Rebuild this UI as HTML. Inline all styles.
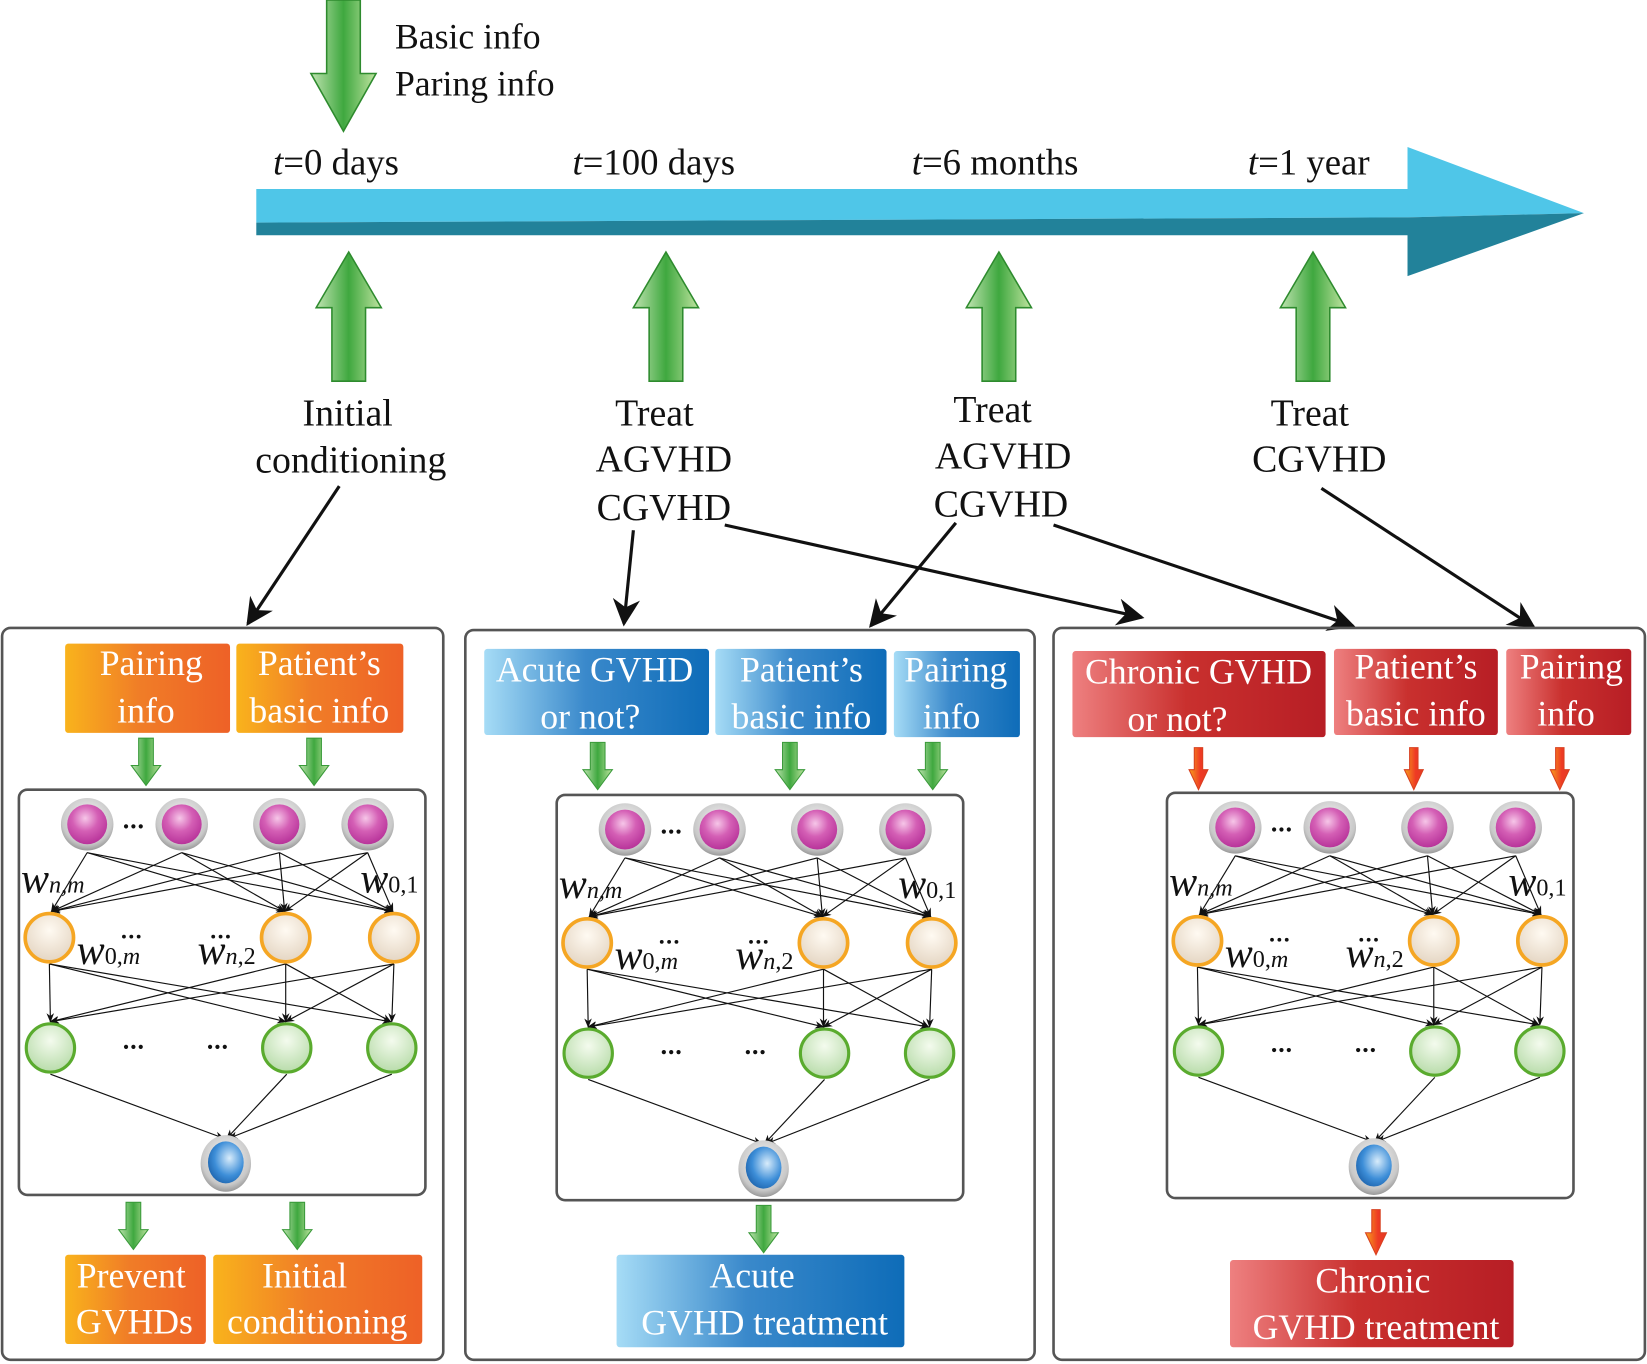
<!DOCTYPE html>
<html><head><meta charset="utf-8"><style>
html,body{margin:0;padding:0;background:#fff;}
svg{display:block;}
text{font-family:"Liberation Serif",serif;}
</style></head><body>
<svg width="1647" height="1364" viewBox="0 0 1568 1299" preserveAspectRatio="none" xmlns="http://www.w3.org/2000/svg">
<defs>
<linearGradient id="gA" x1="0" x2="1" y1="0" y2="0"><stop offset="0" stop-color="#bfe3b0"/><stop offset="0.5" stop-color="#3fa83f"/><stop offset="1" stop-color="#bfe3a0"/></linearGradient>
<linearGradient id="rA" x1="0" x2="1" y1="0" y2="0"><stop offset="0" stop-color="#f7a01c"/><stop offset="0.6" stop-color="#ee3a24"/><stop offset="1" stop-color="#e53a24"/></linearGradient>
<linearGradient id="org" x1="0" x2="1"><stop offset="0" stop-color="#f9b31c"/><stop offset="0.45" stop-color="#f07d27"/><stop offset="1" stop-color="#ee6127"/></linearGradient>
<linearGradient id="blu" x1="0" x2="1"><stop offset="0" stop-color="#a6dcf6"/><stop offset="0.45" stop-color="#3a89cb"/><stop offset="1" stop-color="#0e6cb8"/></linearGradient>
<linearGradient id="red" x1="0" x2="1"><stop offset="0" stop-color="#ee8080"/><stop offset="0.45" stop-color="#c9302e"/><stop offset="1" stop-color="#b71e25"/></linearGradient>
<radialGradient id="mag" cx="0.45" cy="0.35" r="0.65"><stop offset="0" stop-color="#f6c6e8"/><stop offset="0.5" stop-color="#d45fb5"/><stop offset="1" stop-color="#b8349a"/></radialGradient>
<radialGradient id="gry" cx="0.5" cy="0.4" r="0.6"><stop offset="0" stop-color="#fafafa"/><stop offset="0.8" stop-color="#c8c8c8"/><stop offset="1" stop-color="#999"/></radialGradient>
<radialGradient id="crm" cx="0.5" cy="0.35" r="0.65"><stop offset="0" stop-color="#fffaf2"/><stop offset="1" stop-color="#e4d5c2"/></radialGradient>
<radialGradient id="grn" cx="0.5" cy="0.35" r="0.65"><stop offset="0" stop-color="#f4fbee"/><stop offset="1" stop-color="#b8dcaa"/></radialGradient>
<radialGradient id="bl" cx="0.6" cy="0.4" r="0.7"><stop offset="0" stop-color="#d8ecfb"/><stop offset="0.6" stop-color="#3d8ed8"/><stop offset="1" stop-color="#1a5fa8"/></radialGradient>
<marker id="ah" viewBox="0 0 10 10" refX="9" refY="5" markerWidth="9" markerHeight="9" markerUnits="userSpaceOnUse" orient="auto"><path d="M0,1 L10,5 L0,9 L3,5 Z" fill="#111"/></marker>
<marker id="big" viewBox="0 0 10 10" refX="9" refY="5" markerWidth="30" markerHeight="26" markerUnits="userSpaceOnUse" orient="auto"><path d="M0,0 L10,5 L0,10 L3,5 Z" fill="#111"/></marker>
<g id="net">
<rect x="18" y="752" width="387" height="386" rx="8" fill="none" stroke="#555" stroke-width="2.5"/>
<g stroke="#111" stroke-width="1.1" marker-end="url(#ah)">
<path d="M83,812 L49,868"/><path d="M83,812 L271,868"/><path d="M83,812 L374,868"/>
<path d="M173,812 L49,868"/><path d="M173,812 L271,868"/><path d="M173,812 L374,868"/>
<path d="M266,812 L49,868"/><path d="M266,812 L271,868"/><path d="M266,812 L374,868"/>
<path d="M350,812 L49,868"/><path d="M350,812 L271,868"/><path d="M350,812 L374,868"/>
<path d="M47,918 L48,973"/><path d="M47,918 L272,973"/><path d="M47,918 L372,973"/>
<path d="M272,918 L48,973"/><path d="M272,918 L272,973"/><path d="M272,918 L372,973"/>
<path d="M375,918 L48,973"/><path d="M375,918 L272,973"/><path d="M375,918 L373,973"/>
<path d="M48,1023 L213,1084"/><path d="M273,1023 L216,1084"/><path d="M373,1023 L218,1084"/>
</g>
<g>
<circle cx="83" cy="785" r="25" fill="url(#gry)"/><circle cx="83" cy="785" r="19" fill="url(#mag)"/>
<circle cx="173" cy="785" r="25" fill="url(#gry)"/><circle cx="173" cy="785" r="19" fill="url(#mag)"/>
<circle cx="266" cy="785" r="25" fill="url(#gry)"/><circle cx="266" cy="785" r="19" fill="url(#mag)"/>
<circle cx="350" cy="785" r="25" fill="url(#gry)"/><circle cx="350" cy="785" r="19" fill="url(#mag)"/>
<circle cx="47" cy="893" r="23" fill="url(#crm)" stroke="#f5a623" stroke-width="3.5"/>
<circle cx="272" cy="893" r="23" fill="url(#crm)" stroke="#f5a623" stroke-width="3.5"/>
<circle cx="375" cy="893" r="23" fill="url(#crm)" stroke="#f5a623" stroke-width="3.5"/>
<circle cx="48" cy="998" r="23" fill="url(#grn)" stroke="#5aab2e" stroke-width="3"/>
<circle cx="273" cy="998" r="23" fill="url(#grn)" stroke="#5aab2e" stroke-width="3"/>
<circle cx="373" cy="998" r="23" fill="url(#grn)" stroke="#5aab2e" stroke-width="3"/>
<ellipse cx="215" cy="1108" rx="24" ry="27" fill="url(#gry)"/><ellipse cx="215" cy="1107" rx="17" ry="20" fill="url(#bl)"/>
</g>
<g fill="#111"><circle cx="120" cy="787" r="2"/><circle cx="127" cy="787" r="2"/><circle cx="134" cy="787" r="2"/>
<circle cx="120" cy="997" r="2"/><circle cx="127" cy="997" r="2"/><circle cx="134" cy="997" r="2"/>
<circle cx="200" cy="997" r="2"/><circle cx="207" cy="997" r="2"/><circle cx="214" cy="997" r="2"/>
<circle cx="118" cy="892" r="1.8"/><circle cx="125" cy="892" r="1.8"/><circle cx="132" cy="892" r="1.8"/>
<circle cx="203" cy="892" r="1.8"/><circle cx="210" cy="892" r="1.8"/><circle cx="217" cy="892" r="1.8"/>
</g>
</g>
<path id="ga" d="M-7,0 L7,0 L7,26 L14,26 L0,45 L-14,26 L-7,26 Z"/>
</defs>

<path d="M311,0 L343,0 L343,70 L358,70 L327,125 L296,70 L311,70 Z" fill="url(#gA)" stroke="#2e8b2e" stroke-width="1.5"/>
<text x="376" y="46" font-size="34" fill="#111">Basic info</text>
<text x="376" y="91" font-size="34" fill="#111">Paring info</text>

<g font-size="35" fill="#111">
<text x="260" y="166"><tspan font-style="italic">t</tspan>=0 days</text>
<text x="545" y="166"><tspan font-style="italic">t</tspan>=100 days</text>
<text x="868" y="166"><tspan font-style="italic">t</tspan>=6 months</text>
<text x="1188" y="166"><tspan font-style="italic">t</tspan>=1 year</text>
</g>

<path d="M244,180 L1340,180 L1340,140 L1508,203 L1340,207 L244,212 Z" fill="#4fc6e8"/>
<path d="M244,212 L1340,207 L1508,203 L1340,263 L1340,224 L244,224 Z" fill="#22829a"/>

<g fill="url(#gA)" stroke="#2e8b2e" stroke-width="1.5">
<path d="M332,240 L363,293 L348,293 L348,363 L316,363 L316,293 L301,293 Z"/>
<path d="M634,240 L665,293 L650,293 L650,363 L618,363 L618,293 L603,293 Z"/>
<path d="M951,240 L982,293 L967,293 L967,363 L935,363 L935,293 L920,293 Z"/>
<path d="M1250,240 L1281,293 L1266,293 L1266,363 L1234,363 L1234,293 L1219,293 Z"/>
</g>

<g font-size="36" fill="#111" text-anchor="middle">
<text x="331" y="405">Initial</text><text x="334" y="450">conditioning</text>
<text x="623" y="405">Treat</text><text x="632" y="449">AGVHD</text><text x="632" y="495">CGVHD</text>
<text x="945" y="402">Treat</text><text x="955" y="446">AGVHD</text><text x="953" y="492">CGVHD</text>
<text x="1247" y="405">Treat</text><text x="1256" y="449">CGVHD</text>
</g>

<g stroke="#111" stroke-width="3" fill="none" marker-end="url(#big)">
<path d="M323,463 L236,594"/>
<path d="M603,505 L594,594"/>
<path d="M690,500 L1087,588"/>
<path d="M910,498 L829,596"/>
<path d="M1003,500 L1288,596"/>
<path d="M1258,465 L1460,597"/>
</g>

<g fill="none" stroke="#555" stroke-width="2.5">
<rect x="2" y="598" width="420" height="697" rx="8"/>
<rect x="443" y="600" width="542" height="695" rx="8"/>
<rect x="1003" y="598" width="563" height="697" rx="8"/>
</g>

<rect x="62" y="613" width="157" height="85" rx="3" fill="url(#org)"/>
<rect x="225" y="613" width="159" height="85" rx="3" fill="url(#org)"/>
<g font-size="34" fill="#fff" text-anchor="middle">
<text x="144" y="643">Pairing</text><text x="139" y="688">info</text>
<text x="304" y="643">Patient’s</text><text x="304" y="688">basic info</text>
</g>
<g fill="url(#gA)" stroke="#3a9a3a" stroke-width="1"><use href="#ga" x="139" y="703"/><use href="#ga" x="299" y="703"/>
<use href="#ga" x="127" y="1145"/><use href="#ga" x="283" y="1145"/></g>
<use href="#net"/>
<rect x="62" y="1195" width="134" height="85" rx="3" fill="url(#org)"/>
<rect x="203" y="1195" width="199" height="85" rx="3" fill="url(#org)"/>
<g font-size="34" fill="#fff" text-anchor="middle">
<text x="125" y="1226">Prevent</text><text x="128" y="1270">GVHDs</text>
<text x="290" y="1226">Initial</text><text x="302" y="1270">conditioning</text>
</g>

<rect x="461" y="618" width="214" height="82" rx="3" fill="url(#blu)"/>
<rect x="681" y="618" width="163" height="82" rx="3" fill="url(#blu)"/>
<rect x="851" y="620" width="120" height="82" rx="3" fill="url(#blu)"/>
<g font-size="34" fill="#fff" text-anchor="middle">
<text x="566" y="649">Acute GVHD</text><text x="562" y="694">or not?</text>
<text x="763" y="649">Patient’s</text><text x="763" y="694">basic info</text>
<text x="910" y="649">Pairing</text><text x="906" y="694">info</text>
</g>
<g fill="url(#gA)" stroke="#3a9a3a" stroke-width="1"><use href="#ga" x="569" y="707"/><use href="#ga" x="752" y="707"/><use href="#ga" x="888" y="707"/>
<use href="#ga" x="727" y="1148"/></g>
<use href="#net" x="512" y="5"/>
<rect x="587" y="1195" width="274" height="88" rx="3" fill="url(#blu)"/>
<g font-size="34" fill="#fff" text-anchor="middle">
<text x="716" y="1226">Acute</text><text x="728" y="1271">GVHD treatment</text>
</g>

<rect x="1021" y="620" width="241" height="82" rx="3" fill="url(#red)"/>
<rect x="1270" y="618" width="156" height="82" rx="3" fill="url(#red)"/>
<rect x="1434" y="618" width="119" height="82" rx="3" fill="url(#red)"/>
<g font-size="34" fill="#fff" text-anchor="middle">
<text x="1141" y="651">Chronic GVHD</text><text x="1121" y="696">or not?</text>
<text x="1348" y="646">Patient’s</text><text x="1348" y="691">basic info</text>
<text x="1496" y="646">Pairing</text><text x="1491" y="691">info</text>
</g>
<g fill="url(#rA)" stroke="#d84020" stroke-width="1">
<path d="M1137,712 L1145,712 L1145,733 L1150,733 L1141,752 L1132,733 L1137,733 Z"/>
<path d="M1342,712 L1350,712 L1350,733 L1355,733 L1346,752 L1337,733 L1342,733 Z"/>
<path d="M1481,712 L1489,712 L1489,733 L1494,733 L1485,752 L1476,733 L1481,733 Z"/>
<path d="M1306,1152 L1314,1152 L1314,1174 L1320,1174 L1310,1195 L1300,1174 L1306,1174 Z"/>
</g>
<use href="#net" x="1093" y="3"/>
<rect x="1171" y="1200" width="270" height="83" rx="3" fill="url(#red)"/>
<g font-size="34" fill="#fff" text-anchor="middle">
<text x="1307" y="1231">Chronic</text><text x="1310" y="1275">GVHD treatment</text>
</g>

<g fill="#111" font-style="italic" style="font-family:'Liberation Serif',serif">
<text x="20" y="850" font-size="40">w<tspan font-size="23">n,m</tspan></text>
<text x="343" y="850" font-size="40">w<tspan font-size="23" font-style="normal">0,1</tspan></text>
<text x="73" y="918" font-size="40">w<tspan font-size="23" font-style="normal">0,</tspan><tspan font-size="23">m</tspan></text>
<text x="188" y="918" font-size="40">w<tspan font-size="23">n</tspan><tspan font-size="23" font-style="normal">,2</tspan></text>

<text x="532" y="855" font-size="40">w<tspan font-size="23">n,m</tspan></text>
<text x="855" y="855" font-size="40">w<tspan font-size="23" font-style="normal">0,1</tspan></text>
<text x="585" y="923" font-size="40">w<tspan font-size="23" font-style="normal">0,</tspan><tspan font-size="23">m</tspan></text>
<text x="700" y="923" font-size="40">w<tspan font-size="23">n</tspan><tspan font-size="23" font-style="normal">,2</tspan></text>

<text x="1113" y="853" font-size="40">w<tspan font-size="23">n,m</tspan></text>
<text x="1436" y="853" font-size="40">w<tspan font-size="23" font-style="normal">0,1</tspan></text>
<text x="1166" y="921" font-size="40">w<tspan font-size="23" font-style="normal">0,</tspan><tspan font-size="23">m</tspan></text>
<text x="1281" y="921" font-size="40">w<tspan font-size="23">n</tspan><tspan font-size="23" font-style="normal">,2</tspan></text>
</g>
</svg>
</body></html>
